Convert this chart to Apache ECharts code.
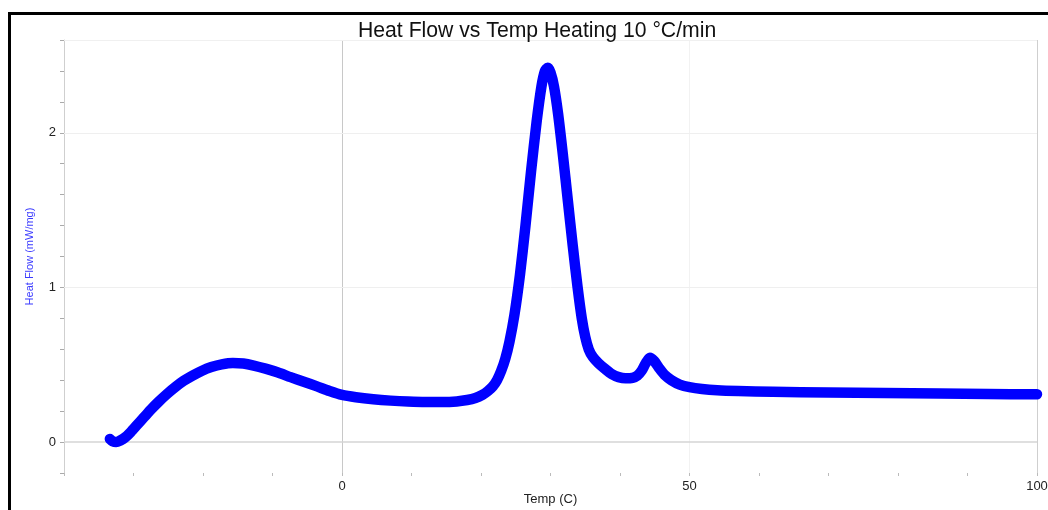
<!DOCTYPE html>
<html>
<head>
<meta charset="utf-8">
<script src="https://cdn.jsdelivr.net/npm/echarts@6/dist/echarts.min.js"></script>
<style>
  html, body { margin: 0; padding: 0; background: #fff; }
  #chart { width: 1048px; height: 510px; }
</style>
</head>
<body>
<div id="chart"></div>
<script>
// DSC heating scan, 10 °C/min
const temps = [
  -33.4, -33.0, -32.5, -31.9, -31.2, -30.4, -29.5, -28.5, -27.5, -26.4,
  -25.2, -24.0, -22.8, -21.5, -20.2, -18.8, -17.3, -15.7, -14.2, -12.7,
  -11.0, -9.2, -7.4, -5.5, -3.6, -1.8, 0, 2, 4.5, 7,
  9.5, 12, 14.5, 16.5, 18.0, 19.2, 20.2, 21.0, 21.7, 22.3,
  22.9, 23.5, 24.1, 24.8, 25.6, 26.4, 27.2, 28.0, 28.7, 29.2,
  29.6, 30.0, 30.5, 31.1, 31.8, 32.5, 33.2, 33.9, 34.5, 35.0,
  35.5, 36.1, 36.9, 37.8, 38.8, 39.8, 40.8, 41.8, 42.5, 43.1,
  43.7, 44.3, 44.9, 45.6, 46.4, 47.4, 48.6, 50.0, 51.8, 54.0,
  57, 62, 70, 78, 86, 93, 100
];
const heatFlow = [
  0.02, 0.005, 0.00, 0.01, 0.03, 0.065, 0.11, 0.16, 0.21, 0.26,
  0.31, 0.355, 0.395, 0.43, 0.46, 0.485, 0.503, 0.512, 0.508, 0.495,
  0.475, 0.45, 0.42, 0.39, 0.36, 0.33, 0.305, 0.29, 0.277, 0.268,
  0.262, 0.259, 0.259, 0.263, 0.272, 0.285, 0.305, 0.33, 0.36, 0.40,
  0.46, 0.54, 0.65, 0.82, 1.08, 1.40, 1.75, 2.07, 2.30, 2.40,
  2.42, 2.39, 2.30, 2.12, 1.85, 1.56, 1.27, 1.00, 0.80, 0.68,
  0.60, 0.55, 0.51, 0.475, 0.44, 0.42, 0.412, 0.415, 0.43, 0.46,
  0.51, 0.545, 0.525, 0.48, 0.435, 0.40, 0.372, 0.355, 0.343, 0.335,
  0.33, 0.325, 0.32, 0.317, 0.314, 0.311, 0.309
];
const xLabelTicks = [0, 50, 100];
const yLabelTicks = [0, 1, 2];

const chart = echarts.init(document.getElementById('chart'), null, { renderer: 'canvas' });

// reference lines: zero lines, light gridlines and the plot's right/top edges
const gridLines = [
  { xAxis: 0, lineStyle: { color: '#c8c8c8', width: 1, type: 'solid' } },
  { xAxis: 50, lineStyle: { color: '#f2f2f2', width: 1, type: 'solid' } },
  { xAxis: 100, lineStyle: { color: '#cfcfcf', width: 1, type: 'solid' } },
  { yAxis: 0, lineStyle: { color: '#d4d4d4', width: 1.5, type: 'solid' } },
  { yAxis: 1, lineStyle: { color: '#efefef', width: 1, type: 'solid' } },
  { yAxis: 2, lineStyle: { color: '#efefef', width: 1, type: 'solid' } },
  { yAxis: 2.6, lineStyle: { color: '#f0f0f0', width: 1, type: 'solid' } }
];

chart.setOption({
  animation: false,
  backgroundColor: '#fff',
  title: {
    text: 'Heat Flow vs Temp Heating 10 °C/min',
    left: 353,
    top: 16,
    textStyle: { fontFamily: 'Liberation Sans', fontSize: 21.2, fontWeight: 'normal', color: '#111' }
  },
  graphic: [{
    type: 'rect',
    shape: { x: 9.5, y: 13.5, width: 1200, height: 700 },
    style: { fill: 'none', stroke: '#000', lineWidth: 3 },
    silent: true
  }],
  grid: { left: 64, top: 40, right: 11, bottom: 37, containLabel: false, outerBoundsMode: 'none' },
  xAxis: {
    type: 'value',
    min: -40, max: 100, interval: 10,
    name: 'Temp (C)',
    nameLocation: 'middle',
    nameGap: 20,
    nameMoveOverlap: false,
    nameTextStyle: { fontFamily: 'Liberation Sans', fontSize: 13, color: '#222' },
    axisLine: { show: false, onZero: false },
    axisTick: { show: true, length: 3, lineStyle: { color: '#bbb' } },
    axisLabel: {
      margin: 7,
      fontFamily: 'Liberation Sans', fontSize: 13, color: '#222',
      formatter: v => (xLabelTicks.indexOf(v) >= 0 ? String(v) : '')
    },
    splitLine: { show: false }
  },
  yAxis: {
    type: 'value',
    min: -0.2, max: 2.6, interval: 0.2,
    name: 'Heat Flow (mW/mg)',
    nameLocation: 'middle',
    nameGap: 29,
    nameMoveOverlap: false,
    nameTextStyle: { fontFamily: 'Liberation Sans', fontSize: 11, color: '#3a3aff' },
    axisLine: { show: true, onZero: false, lineStyle: { color: '#cfcfcf', width: 1 } },
    axisTick: { show: true, length: 4, lineStyle: { color: '#aaa' } },
    axisLabel: {
      margin: 8,
      fontFamily: 'Liberation Sans', fontSize: 13, color: '#222',
      formatter: v => {
        const r = Math.round(v * 10) / 10;
        return yLabelTicks.indexOf(r) >= 0 ? String(r) : '';
      }
    },
    splitLine: { show: false }
  },
  series: [{
    type: 'line',
    data: temps.map((t, i) => [t, heatFlow[i]]),
    showSymbol: false,
    smooth: 0.25,
    lineStyle: { color: '#0000ff', width: 10.5, cap: 'round', join: 'round' },
    markLine: {
      silent: true,
      symbol: ['none', 'none'],
      label: { show: false },
      z: 1,
      data: gridLines
    },
    z: 3
  }]
});
</script>
</body>
</html>
